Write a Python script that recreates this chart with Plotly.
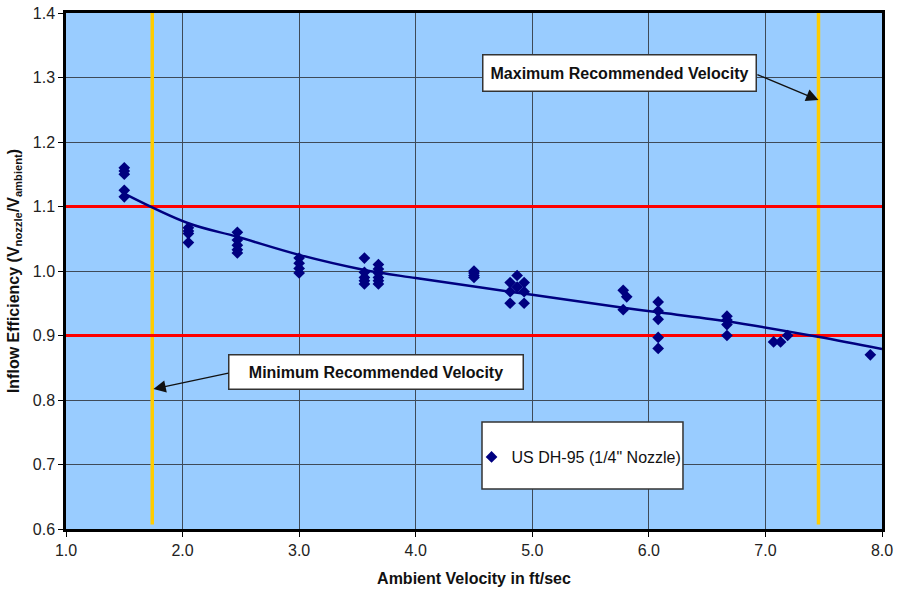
import plotly.graph_objects as go

# ---- data ----
vel = [1.5, 1.5, 1.5, 1.5, 1.5,
       2.05, 2.05, 2.05, 2.05,
       2.47, 2.47, 2.47, 2.47, 2.47,
       3.0, 3.0, 3.0, 3.0,
       3.56, 3.56, 3.56, 3.56, 3.56,
       3.68, 3.68, 3.68, 3.68, 3.68, 3.68,
       4.5, 4.5, 4.5, 4.5,
       4.81, 4.81, 4.81,
       4.87, 4.87,
       4.93, 4.93, 4.93,
       5.78, 5.78, 5.81,
       6.08, 6.08, 6.08, 6.08, 6.08,
       6.67, 6.67, 6.67, 6.67,
       7.07, 7.13, 7.19,
       7.9]
eff = [1.16, 1.155, 1.15, 1.125, 1.115,
       1.067, 1.062, 1.058, 1.044,
       1.06, 1.048, 1.04, 1.033, 1.028,
       1.02, 1.012, 1.004, 0.997,
       1.02, 0.998, 0.99, 0.985, 0.98,
       1.01, 1.003, 0.997, 0.99, 0.985, 0.98,
       1.0, 0.997, 0.993, 0.99,
       0.982, 0.968, 0.95,
       0.993, 0.975,
       0.982, 0.968, 0.95,
       0.97, 0.94, 0.96,
       0.952, 0.938, 0.925, 0.897, 0.88,
       0.93, 0.924, 0.917, 0.9,
       0.89, 0.89, 0.9,
       0.87]

trend_x = [1.5, 2.05, 2.47, 3.0, 3.55, 4.0, 5.0, 5.78, 6.08, 6.67, 7.45, 8.0]
trend_y = [1.12, 1.074, 1.053, 1.025, 1.002, 0.989, 0.963, 0.943, 0.936, 0.922, 0.898, 0.879]

limit_eff = [1.1, 0.9]          # red horizontal limits
limit_vel = [1.74, 7.455]       # yellow vertical limits (min / max recommended)

x_ticks = [1.0, 2.0, 3.0, 4.0, 5.0, 6.0, 7.0, 8.0]
y_ticks = [0.6, 0.7, 0.8, 0.9, 1.0, 1.1, 1.2, 1.3, 1.4]

series_name = 'US DH-95 (1/4" Nozzle)'
FONT = "Liberation Sans, Arial, sans-serif"

fig = go.Figure()

# yellow verticals
for xv in limit_vel:
    fig.add_trace(go.Scatter(x=[xv, xv], y=[0.607, 1.4], mode="lines",
                             line=dict(color="#FFCC00", width=3.5),
                             showlegend=False, hoverinfo="skip"))
# red horizontals
for yv in limit_eff:
    fig.add_trace(go.Scatter(x=[1.0, 8.0], y=[yv, yv], mode="lines",
                             line=dict(color="#FF0000", width=3),
                             showlegend=False, hoverinfo="skip"))

# trend line
fig.add_trace(go.Scatter(x=trend_x, y=trend_y, mode="lines",
                         line=dict(color="#000080", width=2.5, shape="spline"),
                         showlegend=False, hoverinfo="skip"))

# data
fig.add_trace(go.Scatter(x=vel, y=eff, mode="markers", name=series_name,
                         marker=dict(symbol="diamond", size=9, color="#000080")))

# legend box
fig.add_shape(type="rect", xref="paper", yref="paper",
              x0=0.5098, x1=0.7561, y0=0.0775, y1=0.2074,
              fillcolor="white", line=dict(color="#333333", width=1.5),
              layer="above")

ann_font = dict(family=FONT, size=16, color="#111111")
# Maximum box
fig.add_annotation(x=5.747, y=1.307, xref="x", yref="y",
                   text="<b>Maximum Recommended Velocity</b>", showarrow=False,
                   font=ann_font, bgcolor="white", bordercolor="#333333",
                   borderwidth=1.5, width=270, height=33)
fig.add_annotation(x=limit_vel[1], y=1.265, ax=6.918, ay=1.3054,
                   xref="x", yref="y", axref="x", ayref="y", text="",
                   showarrow=True, arrowhead=2, arrowsize=1.9, arrowwidth=1.3,
                   arrowcolor="#111111")
# Minimum box
fig.add_annotation(x=3.659, y=0.843, xref="x", yref="y",
                   text="<b>Minimum Recommended Velocity</b>", showarrow=False,
                   font=ann_font, bgcolor="white", bordercolor="#333333",
                   borderwidth=1.5, width=291, height=31)
fig.add_annotation(x=limit_vel[0] + 0.01, y=0.817, ax=2.406, ay=0.842,
                   xref="x", yref="y", axref="x", ayref="y", text="",
                   showarrow=True, arrowhead=2, arrowsize=1.9, arrowwidth=1.3,
                   arrowcolor="#111111")

axis_common = dict(showline=True, linecolor="black", linewidth=2.5, mirror=True,
                   ticks="outside", ticklen=5, tickcolor="black", tickwidth=1,
                   showgrid=True, gridcolor="#3E4A58", gridwidth=1,
                   zeroline=False, tickformat=".1f", automargin=False,
                   tickfont=dict(family=FONT, size=16, color="#222222"))

fig.update_xaxes(range=[1.0, 8.0], tickvals=x_ticks,
                 title=dict(text="<b>Ambient Velocity in ft/sec</b>",
                            font=dict(family=FONT, size=16, color="#111111"),
                            standoff=15),
                 **axis_common)
fig.update_yaxes(range=[0.6, 1.4], tickvals=y_ticks,
                 title=dict(text="<b>Inflow Efficiency (V<sub>nozzle</sub>/V<sub>ambient</sub>)</b>",
                            font=dict(family=FONT, size=16, color="#111111"),
                            standoff=10),
                 **axis_common)

fig.update_layout(
    width=906, height=593,
    margin=dict(l=66, r=24, t=13, b=64, autoexpand=False),
    plot_bgcolor="#99CCFF", paper_bgcolor="white",
    showlegend=True,
    legend=dict(x=0.497, y=0.1395, xanchor="left", yanchor="middle",
                bgcolor="rgba(0,0,0,0)", borderwidth=0,
                font=dict(family=FONT, size=16, color="#111111")),
    font=dict(family=FONT),
)

fig.write_html("out.html",
               config={"displayModeBar": False},
               post_script="document.body.style.margin='0';document.body.style.padding='0';")
